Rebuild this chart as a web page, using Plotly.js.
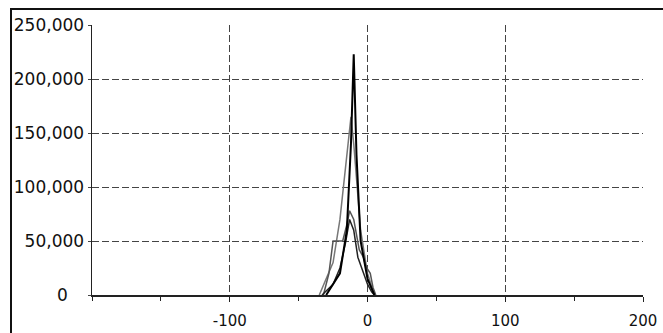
<!DOCTYPE html>
<html>
<head>
<meta charset="utf-8">
<script src="https://cdn.plot.ly/plotly-3.0.1.min.js"></script>
<style>
html,body{margin:0;padding:0;background:#fff;overflow:hidden;}
#frame{position:absolute;left:10px;top:8px;width:700px;height:400px;border-left:2px solid #111;border-top:2px solid #111;pointer-events:none;z-index:5;}
#chart{position:absolute;left:0;top:0;width:663px;height:333px;}
</style>
</head>
<body>
<div id="chart"></div>
<div id="frame"></div>
<script>
// Series
var s1x = [-30, -20, -15, -12, -10, -8, -5, 0, 5];
var s1y = [0, 20000, 60000, 140000, 223000, 130000, 50000, 15000, 0];

var s2x = [-35, -25, -20, -15, -12, -10, -5, 0, 5];
var s2y = [0, 30000, 70000, 130000, 165000, 140000, 60000, 20000, 0];

var s3x = [-32, -28, -25, -18, -15, -13, -10, -6, -3, -1, 2, 4, 6];
var s3y = [0, 20000, 50000, 50000, 65000, 78000, 70000, 42000, 35000, 26000, 20000, 7000, 0];

var s4x = [-33, -25, -20, -16, -13, -10, -7, -3, 0, 3, 5];
var s4y = [0, 10000, 25000, 48000, 70000, 60000, 35000, 20000, 10000, 3000, 0];

var xTickVals = [-100, 0, 100, 200];
var xTickText = ['-100', '0', '100', '200'];
var yTickVals = [0, 50000, 100000, 150000, 200000, 250000];
var yTickText = ['0\u00a0\u00a0\u00a0', '50,000', '100,000', '150,000', '200,000', '250,000'];

var traces = [
  {x: s2x, y: s2y, mode: 'lines', line: {color: '#777', width: 1.5}},
  {x: s3x, y: s3y, mode: 'lines', line: {color: '#555', width: 1.5}},
  {x: s4x, y: s4y, mode: 'lines', line: {color: '#222', width: 1.5}},
  {x: s1x, y: s1y, mode: 'lines', line: {color: '#000', width: 2}}
];

var layout = {
  width: 663, height: 333,
  margin: {l: 92, r: 20, t: 25, b: 38},
  paper_bgcolor: '#fff', plot_bgcolor: '#fff',
  showlegend: false,
  font: {family: 'DejaVu Sans', size: 17, color: '#111'},
  xaxis: {
    range: [-200, 200], tickvals: xTickVals, ticktext: xTickText,
    showgrid: true, gridcolor: '#444', griddash: '7px,3px', gridwidth: 1,
    showline: true, linecolor: '#222', linewidth: 1.5,
    ticks: 'outside', ticklen: 5, tickcolor: '#222',
    ticklabelstandoff: 6,
    tickfont: {size: 15},
    minor: {dtick: 50, tick0: 0, ticks: 'outside', ticklen: 4, tickcolor: '#222', showgrid: false},
    zeroline: false, fixedrange: true
  },
  yaxis: {
    range: [0, 250000], tickvals: yTickVals, ticktext: yTickText,
    showgrid: true, gridcolor: '#444', griddash: '7px,3px', gridwidth: 1,
    showline: true, linecolor: '#222', linewidth: 1.5,
    ticks: 'outside', ticklen: 3, tickcolor: '#444',
    zeroline: false, fixedrange: true
  }
};

Plotly.newPlot('chart', traces, layout, {staticPlot: true, displayModeBar: false});
</script>
</body>
</html>
